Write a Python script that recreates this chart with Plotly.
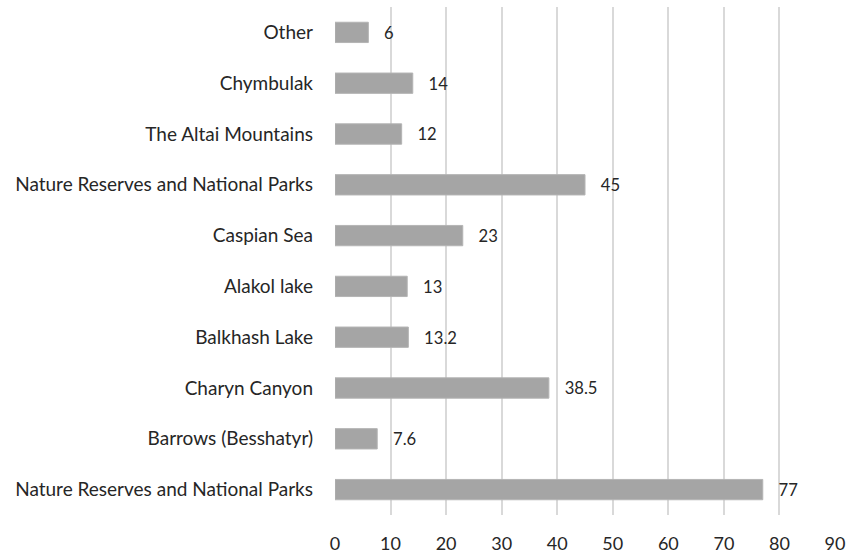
import plotly.graph_objects as go

# Categories listed top to bottom as shown in the chart
categories = [
    "Other",
    "Chymbulak",
    "The Altai Mountains",
    "Nature Reserves and National Parks",
    "Caspian Sea",
    "Alakol lake",
    "Balkhash Lake",
    "Charyn Canyon",
    "Barrows (Besshatyr)",
    "Nature Reserves and National Parks",
]
values = [6, 14, 12, 45, 23, 13, 13.2, 38.5, 7.6, 77]
x_ticks = [0, 10, 20, 30, 40, 50, 60, 70, 80, 90]

positions = list(range(len(categories)))
labels = ["   " + str(v) for v in values]

FONT = "Lato"
TEXT_COLOR = "#262626"

fig = go.Figure(
    go.Bar(
        x=values,
        y=positions,
        orientation="h",
        width=0.4,
        marker=dict(color="#a5a5a5", line=dict(color="#b4b4b4", width=1)),
        text=labels,
        textposition="outside",
        cliponaxis=False,
        textfont=dict(family=FONT, size=18, color=TEXT_COLOR),
    )
)

fig.update_layout(
    width=848,
    height=553,
    autosize=False,
    margin=dict(l=334.5, r=13, t=7.3, b=38.3, autoexpand=False),
    paper_bgcolor="white",
    plot_bgcolor="white",
    showlegend=False,
    font=dict(family=FONT, size=18, color=TEXT_COLOR),
    xaxis=dict(
        range=[0, 90],
        tickvals=x_ticks,
        ticktext=[str(t) for t in x_ticks],
        showgrid=True,
        gridcolor="#d9d9d9",
        gridwidth=2,
        zeroline=False,
        showline=False,
        ticks="",
        automargin=False,
        ticklabelstandoff=16,
        tickfont=dict(family=FONT, size=18, color=TEXT_COLOR),
    ),
    yaxis=dict(
        range=[len(categories) - 0.5, -0.5],
        tickvals=positions,
        ticktext=categories,
        showgrid=False,
        zeroline=False,
        showline=False,
        ticks="",
        automargin=False,
        ticklabelstandoff=21,
        tickfont=dict(family=FONT, size=19, color=TEXT_COLOR),
    ),
)

# Remove the browser's default 8px body margin so the figure sits at (0, 0).
fig.write_html(
    "out.html",
    config={"displayModeBar": False, "responsive": False},
    post_script="document.body.style.margin='0';document.body.style.overflow='hidden';",
)
